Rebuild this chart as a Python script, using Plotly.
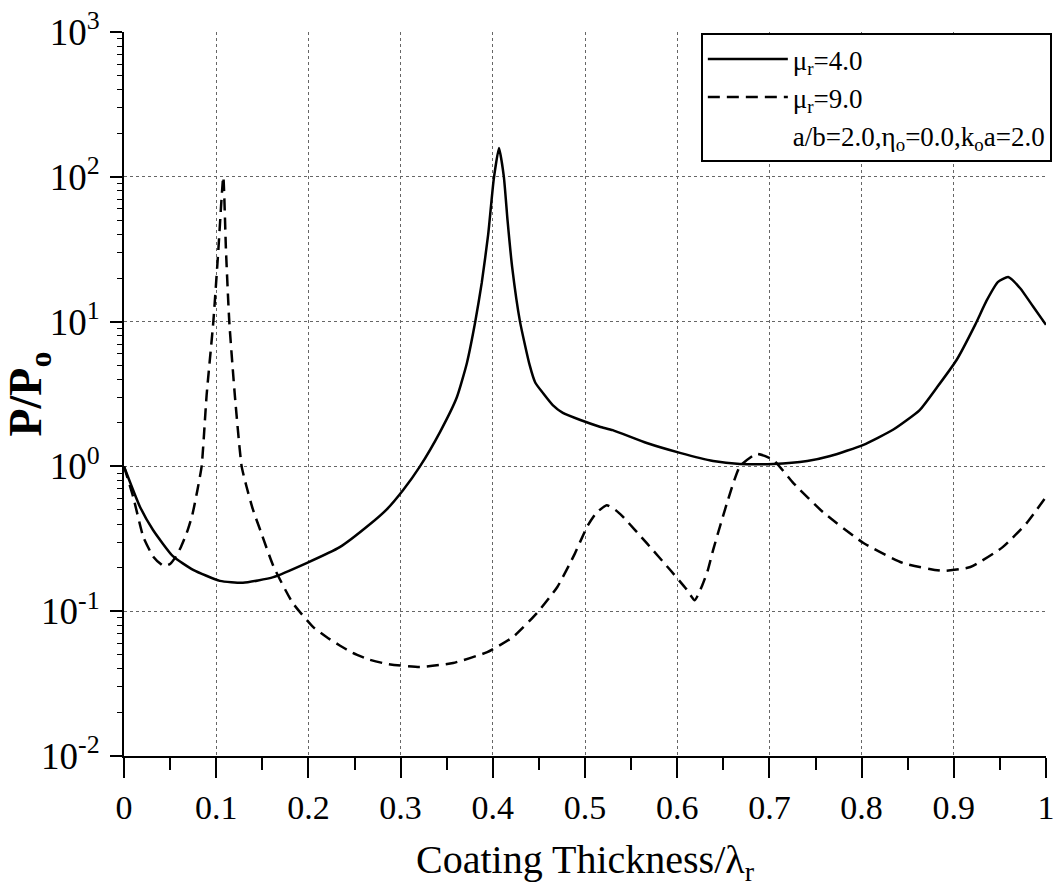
import plotly.graph_objects as go

# --- data ---
x_mu4 = [0, 0.0174, 0.0315, 0.053, 0.075, 0.104, 0.129, 0.162, 0.198, 0.234,
         0.267, 0.285, 0.303, 0.321, 0.343, 0.361, 0.372, 0.381, 0.388, 0.395, 0.401,
         0.4067, 0.412, 0.416, 0.421, 0.4295, 0.440, 0.446, 0.4544, 0.465, 0.476, 0.495,
         0.516, 0.530, 0.567, 0.603, 0.639, 0.668, 0.704, 0.741, 0.766, 0.802, 0.834,
         0.863, 0.882, 0.903, 0.923, 0.9357, 0.948, 0.959, 0.972, 0.986, 1.0]
y_mu4 = [1.0, 0.525, 0.364, 0.240, 0.193, 0.162, 0.157, 0.172, 0.215, 0.277,
         0.40, 0.505, 0.69, 1.0, 1.74, 3.0, 5.2, 10.0, 18.5, 40.0, 96.0,
         158.0, 100.0, 50.0, 23.8, 10.0, 5.0, 3.8, 3.21, 2.65, 2.34, 2.09,
         1.88, 1.78, 1.45, 1.24, 1.09, 1.04, 1.04, 1.09, 1.18, 1.41, 1.79,
         2.45, 3.53, 5.43, 9.46, 14.0, 18.8, 20.3, 17.0, 12.7, 9.5]

x_mu9 = [0, 0.01, 0.021, 0.032, 0.043, 0.050, 0.056, 0.062, 0.068, 0.074, 0.0795,
         0.0842, 0.0896, 0.0969, 0.1023, 0.1077, 0.1106, 0.1142, 0.1204, 0.1276, 0.133,
         0.140, 0.148, 0.162, 0.183, 0.205, 0.220, 0.234, 0.248, 0.265, 0.285, 0.321,
         0.357, 0.394, 0.422, 0.448, 0.470, 0.489, 0.4946, 0.503, 0.512, 0.5235, 0.533,
         0.541, 0.567, 0.592, 0.610, 0.619, 0.627, 0.633, 0.639, 0.654, 0.668, 0.686,
         0.704, 0.726, 0.758, 0.802, 0.845, 0.888, 0.918, 0.953, 0.979, 1.0]
y_mu9 = [1.0, 0.615, 0.325, 0.237, 0.205, 0.212, 0.237, 0.28, 0.347, 0.46, 0.68,
         1.0, 3.1, 10.0, 31.0, 100.0, 31.0, 10.0, 3.0, 1.0, 0.72,
         0.50, 0.36, 0.205, 0.114, 0.078, 0.066, 0.058, 0.0515, 0.0465, 0.0433, 0.0412,
         0.0439, 0.0522, 0.0664, 0.0973, 0.147, 0.25, 0.30, 0.39, 0.475, 0.54, 0.50,
         0.45, 0.295, 0.194, 0.142, 0.119, 0.15, 0.19, 0.265, 0.558, 1.0, 1.22,
         1.11, 0.767, 0.484, 0.296, 0.215, 0.190, 0.202, 0.277, 0.406, 0.615]

x_tickvals = [0, 0.1, 0.2, 0.3, 0.4, 0.5, 0.6, 0.7, 0.8, 0.9, 1.0]
x_ticktext = ["0", "0.1", "0.2", "0.3", "0.4", "0.5", "0.6", "0.7", "0.8", "0.9", "1"]
y_tickvals = [0.01, 0.1, 1, 10, 100, 1000]
y_ticktext = ["10<sup>-2</sup>", "10<sup>-1</sup>", "10<sup>0</sup>",
              "10<sup>1</sup>", "10<sup>2</sup>", "10<sup>3</sup>"]

name_mu4 = "μ<sub>r</sub>=4.0"
name_mu9 = "μ<sub>r</sub>=9.0"
name_params = "a/b=2.0,η<sub>o</sub>=0.0,k<sub>o</sub>a=2.0"

FONT = "Liberation Serif"

fig = go.Figure()
fig.add_trace(go.Scatter(x=x_mu4, y=y_mu4, mode="lines", name=name_mu4,
                         line=dict(color="black", width=2.5, shape="spline", smoothing=0.5)))
fig.add_trace(go.Scatter(x=x_mu9, y=y_mu9, mode="lines", name=name_mu9,
                         line=dict(color="black", width=2.5, dash="12px,7px",
                                   shape="spline", smoothing=0.5)))
fig.add_trace(go.Scatter(x=[None], y=[None], mode="lines", name=name_params,
                         line=dict(color="rgba(0,0,0,0)", width=0)))

fig.update_layout(
    width=1055, height=890,
    margin=dict(l=124, r=9, t=32, b=134, autoexpand=False),
    paper_bgcolor="white", plot_bgcolor="white",
    font=dict(family=FONT, color="black", size=24),
    showlegend=True,
    legend=dict(xref="container", yref="container",
                x=0.997, xanchor="right", y=0.963, yanchor="top",
                bgcolor="white", bordercolor="black", borderwidth=2,
                font=dict(family=FONT, size=27, color="black"),
                itemwidth=80, tracegroupgap=0),
)

fig.update_xaxes(
    range=[0, 1], tickmode="array", tickvals=x_tickvals, ticktext=x_ticktext,
    automargin=False,
    ticks="outside", ticklen=20, tickwidth=1.5, tickcolor="black",
    showline=True, linecolor="black", linewidth=2, mirror=False,
    showgrid=True, gridcolor="#666", griddash="dot", gridwidth=1,
    zeroline=False,
    minor=dict(ticks="outside", ticklen=12, tickwidth=1.5, tickcolor="black",
               dtick=0.05, tick0=0, showgrid=False),
    tickfont=dict(family=FONT, size=34, color="black"),
    ticklabelstandoff=0,
    title=dict(text="Coating Thickness/λ<sub>r</sub>",
               font=dict(family=FONT, size=40, color="black"), standoff=20),
)

fig.update_yaxes(
    type="log", range=[-2, 3], tickmode="array", tickvals=y_tickvals, ticktext=y_ticktext,
    automargin=False,
    ticks="outside", ticklen=12, tickwidth=1.5, tickcolor="black",
    showline=True, linecolor="black", linewidth=2, mirror=False,
    showgrid=True, gridcolor="#666", griddash="dot", gridwidth=1,
    zeroline=False,
    minor=dict(ticks="outside", ticklen=5, tickwidth=1.2, tickcolor="black",
               dtick="D1", showgrid=False),
    tickfont=dict(family=FONT, size=37, color="black"),
    ticklabelstandoff=3,
    title=dict(text="<b>P/P<sub>o</sub></b>",
               font=dict(family=FONT, size=46, color="black"), standoff=4),
)

# small axis-line overhangs as in the original
fig.add_shape(type="line", xref="paper", yref="paper", x0=-0.015, x1=0, y0=0, y1=0,
              line=dict(color="black", width=2))
fig.add_shape(type="line", xref="paper", yref="paper", x0=0, x1=0, y0=-0.026, y1=0,
              line=dict(color="black", width=2))

fig.write_html("out.html",
               config={"displayModeBar": False},
               post_script="document.body.style.margin='0';document.body.style.overflow='hidden';")
